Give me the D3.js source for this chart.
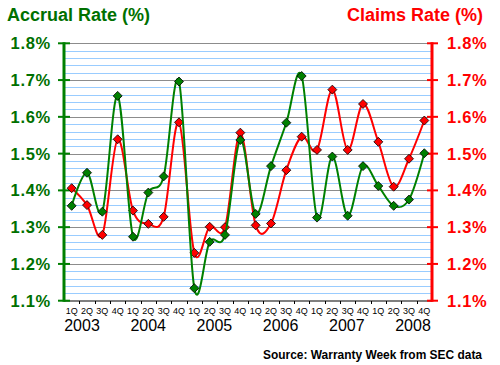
<!DOCTYPE html>
<html><head><meta charset="utf-8">
<script src="https://cdn.jsdelivr.net/npm/d3@7"></script>
<style>body{margin:0;background:#fff}svg{display:block}text{font-family:"Liberation Sans",Arial,sans-serif}</style>
</head><body>
<svg id="c" width="500" height="365"></svg>
<script>
const years = ["2003","2004","2005","2006","2007","2008"];
const quarters = ["1Q","2Q","3Q","4Q"];
const accrualRate = [1.358,1.448,1.342,1.657, 1.274,1.394,1.438,1.696, 1.134,1.260,1.279,1.537, 1.336,1.466,1.584,1.711, 1.326,1.492,1.331,1.466, 1.412,1.358,1.375,1.501];
const claimsRate  = [1.406,1.360,1.279,1.539, 1.345,1.309,1.328,1.585, 1.230,1.301,1.300,1.557, 1.305,1.310,1.455,1.546, 1.510,1.674,1.510,1.635, 1.532,1.410,1.486,1.590];
const yTicks = [1.1,1.2,1.3,1.4,1.5,1.6,1.7,1.8];

const GREEN = "#008000", GREEN_T = "#007000", RED = "#ff0000";
const svg = d3.select("#c");
const L = 64, R = 432, T = 43.3, B = 300.7;

const periods = [];
years.forEach(y => quarters.forEach(q => periods.push(y + " " + q)));

const x = d3.scaleBand().domain(periods).range([L, R]).padding(0);
const y = d3.scaleLinear().domain([1.1, 1.8]).range([B, T]);
const cx = d => x(d) + x.bandwidth() / 2;

// gridlines
const minorTicks = d3.range(1, 35).map(i => +(1.1 + i * 0.02).toFixed(3)).filter(v => Math.abs(v * 10 - Math.round(v * 10)) > 1e-6);
svg.append("g").selectAll("line").data(minorTicks).join("line")
  .attr("x1", L).attr("x2", R).attr("y1", d => Math.round(y(d)) + 0.5).attr("y2", d => Math.round(y(d)) + 0.5)
  .attr("stroke", "#99ccff").attr("stroke-width", 1);
svg.append("g").selectAll("line").data(yTicks.slice(1)).join("line")
  .attr("x1", L).attr("x2", R).attr("y1", d => Math.round(y(d)) + 0.5).attr("y2", d => Math.round(y(d)) + 0.5)
  .attr("stroke", "#8c8c8c").attr("stroke-width", 1);

// bottom axis
const xAxis = svg.append("g").attr("transform", `translate(0,${Math.round(B)})`);
xAxis.append("line").attr("x1", L).attr("x2", R).attr("y1", 0).attr("y2", 0).attr("stroke", "#000").attr("stroke-width", 1.2);
xAxis.selectAll("line.t").data(periods.slice(1)).join("line").attr("class", "t")
  .attr("x1", d => Math.round(x(d)) + 0.5).attr("x2", d => Math.round(x(d)) + 0.5).attr("y1", 0).attr("y2", 3)
  .attr("stroke", "#000");
xAxis.selectAll("text.q").data(periods).join("text").attr("class", "q")
  .attr("x", d => cx(d)).attr("y", 12.5).attr("text-anchor", "middle")
  .attr("font-size", 9).attr("fill", "#000").text(d => d.split(" ")[1]);

const yearX = d3.scalePoint().domain(years).range([82, 413]);
svg.append("g").selectAll("text").data(years).join("text")
  .attr("x", d => yearX(d)).attr("y", 331).attr("text-anchor", "middle")
  .attr("font-size", 16).attr("fill", "#000").text(d => d);

// left axis
const la = svg.append("g");
la.append("line").attr("x1", L).attr("x2", L).attr("y1", T - 1).attr("y2", B + 1).attr("stroke", GREEN).attr("stroke-width", 3);
la.selectAll("line.t").data(yTicks).join("line").attr("class", "t")
  .attr("x1", 58).attr("x2", 70).attr("y1", d => y(d)).attr("y2", d => y(d)).attr("stroke", GREEN).attr("stroke-width", 2);
la.selectAll("text").data(yTicks).join("text")
  .attr("x", 51).attr("y", d => y(d)).attr("dy", "0.36em").attr("text-anchor", "end")
  .attr("font-size", 16.5).attr("font-weight", "bold").attr("letter-spacing", 0.7).attr("fill", GREEN_T)
  .text(d => d.toFixed(1) + "%");

// right axis
const ra = svg.append("g");
ra.append("line").attr("x1", R).attr("x2", R).attr("y1", T - 1).attr("y2", B + 1).attr("stroke", RED).attr("stroke-width", 3);
ra.selectAll("line.t").data(yTicks).join("line").attr("class", "t")
  .attr("x1", R - 5).attr("x2", R + 6).attr("y1", d => y(d)).attr("y2", d => y(d)).attr("stroke", RED).attr("stroke-width", 2);
ra.selectAll("text").data(yTicks).join("text")
  .attr("x", 447).attr("y", d => y(d)).attr("dy", "0.36em").attr("text-anchor", "start")
  .attr("font-size", 16.5).attr("font-weight", "bold").attr("letter-spacing", 0.7).attr("fill", RED)
  .text(d => d.toFixed(1) + "%");

// titles
svg.append("text").attr("x", 7).attr("y", 21).attr("font-size", 18).attr("font-weight", "bold").attr("fill", GREEN_T).text("Accrual Rate (%)");
svg.append("text").attr("x", 483).attr("y", 21).attr("text-anchor", "end").attr("font-size", 18).attr("font-weight", "bold").attr("fill", RED).text("Claims Rate (%)");
svg.append("text").attr("x", 263).attr("y", 359).attr("text-anchor", "start").attr("font-size", 13).attr("font-weight", "bold")
  .attr("textLength", 219).attr("lengthAdjust", "spacingAndGlyphs").attr("fill", "#000").text("Source: Warranty Week from SEC data");

// series
const line = d3.line().x(d => cx(d.p)).y(d => y(d.v)).curve(d3.curveCardinal.tension(0));
const diamond = "M0,-4.5L4.5,0L0,4.5L-4.5,0Z";
function series(vals, color) {
  const data = vals.map((v, i) => ({ p: periods[i], v }));
  const g = svg.append("g");
  g.append("path").datum(data).attr("d", line).attr("fill", "none").attr("stroke", color).attr("stroke-width", 2);
  g.selectAll("path.m").data(data).join("path").attr("class", "m")
    .attr("transform", d => `translate(${cx(d.p)},${y(d.v)})`).attr("d", diamond)
    .attr("fill", color).attr("stroke", "#000").attr("stroke-width", 0.8);
}
series(claimsRate, RED);
series(accrualRate, GREEN);
</script>
</body></html>
